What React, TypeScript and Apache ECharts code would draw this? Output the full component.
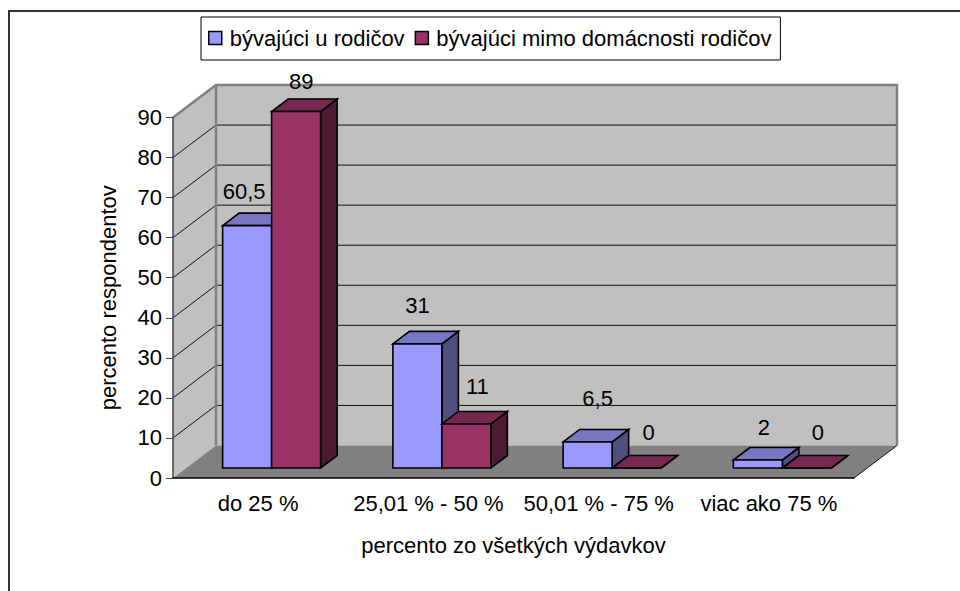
import React, { useEffect, useRef } from "react";
import * as echarts from "echarts";

const categories = ["do 25 %", "25,01 % - 50 %", "50,01 % - 75 %", "viac ako 75 %"];
const seriesNames = ["bývajúci u rodičov", "bývajúci mimo domácnosti rodičov"];
const livingWithParents = [60.5, 31, 6.5, 2];
const livingElsewhere = [89, 11, 0, 0];
const labelsWithParents = ["60,5", "31", "6,5", "2"];
const labelsElsewhere = ["89", "11", "0", "0"];
const yTicks = [0, 10, 20, 30, 40, 50, 60, 70, 80, 90];

const FONT = "'Liberation Sans', Arial, sans-serif";
const FS = 22;
const WALL_DX = 43;
const WALL_DY = -32.5;
const BAR_INSET_DX = 13.5;
const BAR_INSET_DY = -10;
const BAR_DX = 16.5;
const BAR_DY = -12.5;
const BAR_W = 49;

const palette = [
  { front: "#9999ff", top: "#7777c4", side: "#50507f" },
  { front: "#993366", top: "#772850", side: "#4d1a33" },
];
// label offsets relative to the front-top centre of each bar
const labelNudge = [
  [[-3, -34], [0, -38], [10, -43], [6, -32]],
  [[5, -30], [11, -37], [12, -36], [11, -36]],
];

export default function App() {
  const ref = useRef<HTMLDivElement>(null);
  useEffect(() => {
    const chart = echarts.init(ref.current!, undefined, { renderer: "svg" });

    const renderWalls = (_: any, api: any) => {
      const band = api.size([1, 0])[0];
      const first = api.coord([0, 0]);
      const last = api.coord([categories.length - 1, 0]);
      const o = [first[0] - band / 2, first[1]];
      const end = [last[0] + band / 2, first[1]];
      const top = [o[0], api.coord([0, yTicks[yTicks.length - 1]])[1]];
      const wallStroke = { stroke: "#808080", lineWidth: 2.5, fill: "none" };
      const children: any[] = [
        { type: "polygon", shape: { points: [[o[0] + WALL_DX, o[1] + WALL_DY], [end[0] + WALL_DX, o[1] + WALL_DY], [end[0] + WALL_DX, top[1] + WALL_DY], [o[0] + WALL_DX, top[1] + WALL_DY]] }, style: { fill: "#c0c0c0" } },
        { type: "polygon", shape: { points: [o, [o[0] + WALL_DX, o[1] + WALL_DY], [o[0] + WALL_DX, top[1] + WALL_DY], top] }, style: { fill: "#c0c0c0" } },
        { type: "polygon", shape: { points: [o, end, [end[0] + WALL_DX, o[1] + WALL_DY], [o[0] + WALL_DX, o[1] + WALL_DY]] }, style: { fill: "#808080" } },
      ];
      yTicks.slice(1, -1).forEach((t) => {
        const y = api.coord([0, t])[1];
        children.push({
          type: "polyline",
          shape: { points: [[o[0], y], [o[0] + WALL_DX, y + WALL_DY], [end[0] + WALL_DX, y + WALL_DY]] },
          style: { stroke: "#111", lineWidth: 1, fill: "none" },
        });
      });
      children.push({
        type: "polyline",
        shape: { points: [top, [top[0] + WALL_DX, top[1] + WALL_DY], [end[0] + WALL_DX, top[1] + WALL_DY], [end[0] + WALL_DX, o[1] + WALL_DY]] },
        style: wallStroke,
      });
      children.push({
        type: "polyline",
        shape: { points: [[o[0] + WALL_DX, top[1] + WALL_DY], [o[0] + WALL_DX, o[1] + WALL_DY]] },
        style: wallStroke,
      });
      children.push({
        type: "polyline",
        shape: { points: [end, [end[0] + WALL_DX, o[1] + WALL_DY]] },
        style: { stroke: "#111", lineWidth: 1, fill: "none" },
      });
      return { type: "group", children };
    };

    const barRenderer = (sIdx: number, texts: string[]) => (_: any, api: any) => {
      const cat = api.value(0);
      const val = api.value(1);
      const c = api.coord([cat, val]);
      const b = api.coord([cat, 0]);
      const x0 = c[0] + BAR_INSET_DX + (sIdx === 0 ? -BAR_W : 0);
      const x1 = x0 + BAR_W;
      const yT = c[1] + BAR_INSET_DY;
      const yB = b[1] + BAR_INSET_DY;
      const p = palette[sIdx];
      const edge = { stroke: "#000", lineWidth: 1.6, lineJoin: "miter" };
      const [nx, ny] = labelNudge[sIdx][cat];
      return {
        type: "group",
        children: [
          { type: "polygon", shape: { points: [[x1, yT], [x1 + BAR_DX, yT + BAR_DY], [x1 + BAR_DX, yB + BAR_DY], [x1, yB]] }, style: { fill: p.side, ...edge } },
          { type: "polygon", shape: { points: [[x0, yT], [x1, yT], [x1 + BAR_DX, yT + BAR_DY], [x0 + BAR_DX, yT + BAR_DY]] }, style: { fill: p.top, ...edge } },
          { type: "polygon", shape: { points: [[x0, yT], [x1, yT], [x1, yB], [x0, yB]] }, style: { fill: p.front, ...edge } },
          {
            type: "text",
            x: (x0 + x1) / 2 + nx,
            y: yT + ny,
            style: { text: texts[cat], font: `${FS}px ${FONT}`, fill: "#000", align: "center", verticalAlign: "middle" },
          },
        ],
      };
    };

    chart.setOption({
      animation: false,
      backgroundColor: "#fff",
      textStyle: { fontFamily: FONT },
      graphic: [
        {
          type: "polyline",
          silent: true,
          shape: { points: [[9, 591], [9, 11], [960, 11]] },
          style: { stroke: "#333", lineWidth: 2, fill: "none" },
        },
      ],
      legend: {
        data: seriesNames.map((name, i) => ({
          name,
          icon: "rect",
          itemStyle: { color: palette[i].front, borderColor: "#000", borderWidth: 1.5 },
        })),
        left: 201,
        top: 17,
        padding: [10, 9, 11, 7],
        itemWidth: 13,
        itemHeight: 13,
        itemGap: 10,
        backgroundColor: "#fff",
        borderColor: "#000",
        borderWidth: 1,
        borderRadius: 0,
        textStyle: { fontFamily: FONT, fontSize: FS, color: "#000", padding: [0, 0, 0, 3] },
      },
      grid: { left: 173, right: 106, top: 117.5, height: 360.5, containLabel: false },
      xAxis: {
        type: "category",
        data: categories,
        z: 6,
        name: "percento zo všetkých výdavkov",
        nameLocation: "middle",
        nameGap: 56,
        nameTextStyle: { fontFamily: FONT, fontSize: FS, color: "#000" },
        axisLine: { lineStyle: { color: "#000", width: 1.5 } },
        axisTick: { alignWithLabel: false, length: 6, lineStyle: { color: "#000" } },
        axisLabel: { fontFamily: FONT, fontSize: FS, color: "#000", margin: 14, interval: 0 },
        splitLine: { show: false },
      },
      yAxis: {
        type: "value",
        min: 0,
        max: 90,
        interval: 10,
        z: 6,
        name: "percento respondentov",
        nameLocation: "middle",
        nameGap: 54,
        nameTextStyle: { fontFamily: FONT, fontSize: FS, color: "#000" },
        axisLine: { show: true, lineStyle: { color: "#444", width: 1.5 } },
        axisTick: { show: true, length: 7, lineStyle: { color: "#444" } },
        axisLabel: { fontFamily: FONT, fontSize: FS, color: "#000", margin: 11 },
        splitLine: { show: false },
      },
      series: [
        { type: "custom", name: "walls", coordinateSystem: "cartesian2d", silent: true, z: 1, clip: false, data: [[0, 0]], renderItem: renderWalls, encode: { x: 0, y: 1 } },
        {
          type: "custom",
          name: seriesNames[0],
          coordinateSystem: "cartesian2d",
          z: 2,
          clip: false,
          itemStyle: { color: palette[0].front },
          data: livingWithParents.map((v, i) => [i, v]),
          renderItem: barRenderer(0, labelsWithParents),
          encode: { x: 0, y: 1 },
        },
        {
          type: "custom",
          name: seriesNames[1],
          coordinateSystem: "cartesian2d",
          z: 3,
          clip: false,
          itemStyle: { color: palette[1].front },
          data: livingElsewhere.map((v, i) => [i, v]),
          renderItem: barRenderer(1, labelsElsewhere),
          encode: { x: 0, y: 1 },
        },
      ],
    });
    return () => chart.dispose();
  }, []);
  return <div ref={ref} style={{ position: "fixed", left: 0, top: 0, width: 960, height: 591 }} />;
}
